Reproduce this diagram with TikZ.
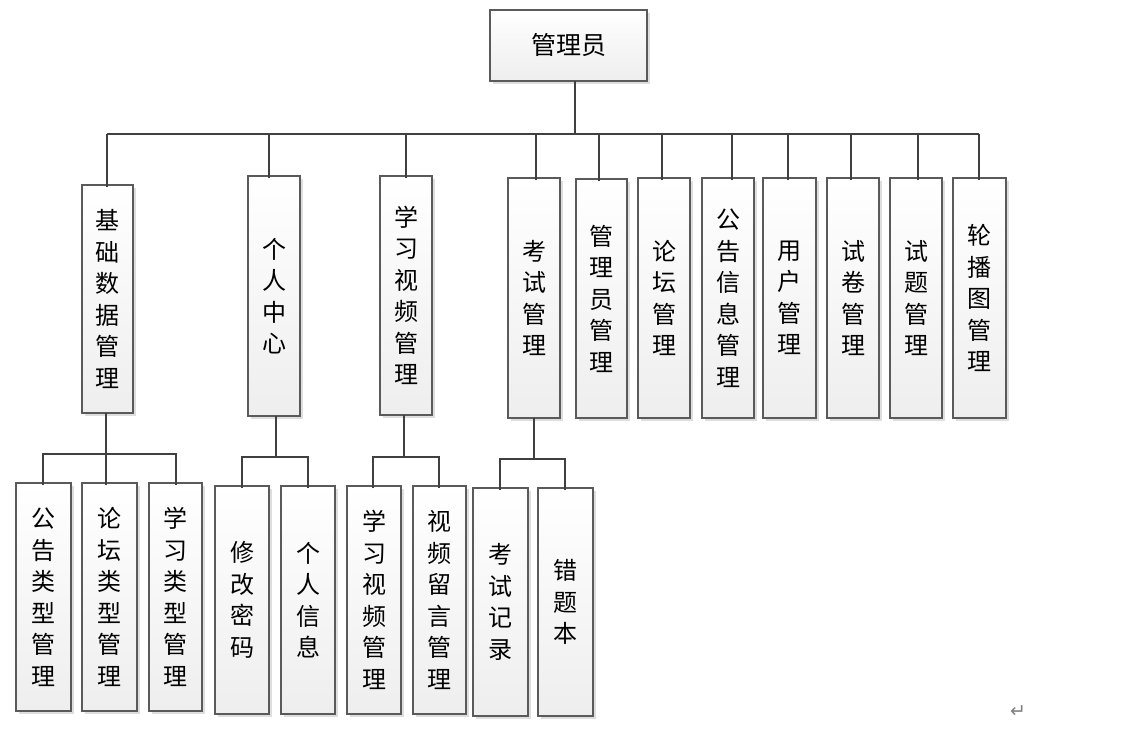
\documentclass[tikz,border=0pt]{standalone}
\usepackage{fontspec}
\newfontfamily\cjk{Noto Sans CJK SC}
\newfontfamily\djv{DejaVu Sans}
\usetikzlibrary{shadows}
\definecolor{linec}{HTML}{404040}
\definecolor{borderc}{HTML}{5A5A5A}
\definecolor{shadec}{HTML}{EEEEEE}
\definecolor{shadowc}{HTML}{DEDEDE}
\tikzset{
  vbox/.style={draw=borderc, line width=1.1pt, top color=white, bottom color=shadec,
    inner sep=0pt, align=center, font=\cjk\fontsize{24}{31.5}\selectfont,
    drop shadow={shadow xshift=3pt, shadow yshift=-3pt, fill=shadowc, opacity=1}},
  conn/.style={draw=linec, line width=2.2pt}
}
\begin{document}
\begin{tikzpicture}[x=1pt,y=-1pt]
\useasboundingbox (0,0) rectangle (1134,730);
% root
\node[vbox, minimum width=157pt, minimum height=71pt, font=\cjk\fontsize{25}{28}\selectfont] (root) at (568.5,45.5) {管理员};
% level 2
\node[vbox, minimum width=51pt, minimum height=228pt] (n1) at (107.5,299) {基\\础\\数\\据\\管\\理};
\node[vbox, minimum width=52pt, minimum height=240pt] (n2) at (274,296) {个\\人\\中\\心};
\node[vbox, minimum width=52pt, minimum height=239pt] (n3) at (406,295.5) {学\\习\\视\\频\\管\\理};
\node[vbox, minimum width=52pt, minimum height=240pt] (n4) at (534,298) {考\\试\\管\\理};
\node[vbox, minimum width=51pt, minimum height=239pt] (n5) at (601.5,298.5) {管\\理\\员\\管\\理};
\node[vbox, minimum width=52pt, minimum height=240pt] (n6) at (664,298) {论\\坛\\管\\理};
\node[vbox, minimum width=52pt, minimum height=240pt] (n7) at (728,298) {公\\告\\信\\息\\管\\理};
\node[vbox, minimum width=53pt, minimum height=240pt] (n8) at (789.5,298) {用\\户\\管\\理};
\node[vbox, minimum width=52pt, minimum height=240pt] (n9) at (853,298) {试\\卷\\管\\理};
\node[vbox, minimum width=52pt, minimum height=240pt] (n10) at (916,298) {试\\题\\管\\理};
\node[vbox, minimum width=53pt, minimum height=240pt] (n11) at (979.5,298) {轮\\播\\图\\管\\理};
% level 3
\node[vbox, minimum width=55pt, minimum height=228pt] (a1) at (43.5,597) {公\\告\\类\\型\\管\\理};
\node[vbox, minimum width=55pt, minimum height=228pt] (a2) at (109.5,597) {论\\坛\\类\\型\\管\\理};
\node[vbox, minimum width=53pt, minimum height=228pt] (a3) at (175.5,597) {学\\习\\类\\型\\管\\理};
\node[vbox, minimum width=54pt, minimum height=228pt] (b1) at (242,600) {修\\改\\密\\码};
\node[vbox, minimum width=54pt, minimum height=228pt] (b2) at (308,600) {个\\人\\信\\息};
\node[vbox, minimum width=54pt, minimum height=228pt] (c1) at (374,600) {学\\习\\视\\频\\管\\理};
\node[vbox, minimum width=53pt, minimum height=228pt] (c2) at (439.5,600) {视\\频\\留\\言\\管\\理};
\node[vbox, minimum width=55pt, minimum height=228pt] (d1) at (500.5,602) {考\\试\\记\\录};
\node[vbox, minimum width=55pt, minimum height=228pt] (d2) at (565.5,602) {错\\题\\本};
% return mark
\node[text=gray, font=\djv\fontsize{19}{19}\selectfont, inner sep=0pt] (ret) at (1018,712) {↵};
% connector coordinates
\coordinate (rs) at (575,81);
\coordinate (bar) at (575,134);
\coordinate (t1) at (107,134);
\coordinate (t2) at (269,134);
\coordinate (t3) at (406,134);
\coordinate (t4) at (536,134);
\coordinate (t5) at (599,134);
\coordinate (t6) at (662,134);
\coordinate (t7) at (732,134);
\coordinate (t8) at (788,134);
\coordinate (t9) at (851,134);
\coordinate (t10) at (918,134);
\coordinate (t11) at (979,134);
% level 1 -> bar
\draw[conn] (rs) -- (bar);
\draw[conn] (t1) -- (t11);
\foreach \i in {1,...,11} {\draw[conn] (t\i) -- ([yshift=-3pt]t\i |- n\i.north);}
% group A
\coordinate (sa) at (106,413);
\coordinate (ha) at (106,454);
\coordinate (la1) at (43,454);
\coordinate (la3) at (176,454);
\draw[conn] (sa) -- (ha);
\draw[conn] ([yshift=-3pt]la1 |- a1.north) -- (la1) -- (la3) -- ([yshift=-3pt]la3 |- a3.north);
\draw[conn] (ha) -- ([yshift=-3pt]ha |- a2.north);
% group B
\coordinate (sb) at (276,416);
\coordinate (hb) at (276,457);
\coordinate (lb1) at (242,457);
\coordinate (lb2) at (308,457);
\draw[conn] (sb) -- (hb);
\draw[conn] ([yshift=-3pt]lb1 |- b1.north) -- (lb1) -- (lb2) -- ([yshift=-3pt]lb2 |- b2.north);
% group C
\coordinate (sc) at (404,415);
\coordinate (hc) at (404,457);
\coordinate (lc1) at (373,457);
\coordinate (lc2) at (439,457);
\draw[conn] (sc) -- (hc);
\draw[conn] ([yshift=-3pt]lc1 |- c1.north) -- (lc1) -- (lc2) -- ([yshift=-3pt]lc2 |- c2.north);
% group D
\coordinate (sd) at (534,418);
\coordinate (hd) at (534,459);
\coordinate (ld1) at (500,459);
\coordinate (ld2) at (565,459);
\draw[conn] (sd) -- (hd);
\draw[conn] ([yshift=-3pt]ld1 |- d1.north) -- (ld1) -- (ld2) -- ([yshift=-3pt]ld2 |- d2.north);
\end{tikzpicture}
\end{document}
